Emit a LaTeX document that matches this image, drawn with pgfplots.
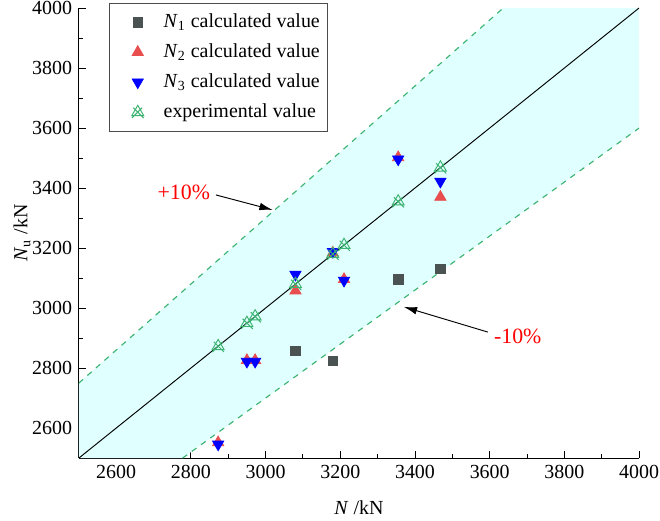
\documentclass[border=0pt]{standalone}
\usepackage{fontspec}
\setmainfont{Liberation Serif}
\usepackage{pgfplots}
\pgfplotsset{compat=1.18}
\usetikzlibrary{arrows.meta}
\definecolor{bandfill}{RGB}{224,255,255}
\definecolor{bandline}{RGB}{60,179,113}
\definecolor{ngray}{RGB}{74,82,82}
\definecolor{nred}{RGB}{232,78,78}
\definecolor{nblue}{RGB}{0,0,255}

% open triangle with a cross through it, like the Origin marker
\pgfdeclareplotmark{trix}{%
  \pgfpathmoveto{\pgfqpointpolar{90}{\pgfplotmarksize}}%
  \pgfpathlineto{\pgfqpointpolar{210}{\pgfplotmarksize}}%
  \pgfpathlineto{\pgfqpointpolar{330}{\pgfplotmarksize}}%
  \pgfpathclose
  \pgfpathmoveto{\pgfqpointpolar{45}{0.9\pgfplotmarksize}}%
  \pgfpathlineto{\pgfqpointpolar{225}{1.2\pgfplotmarksize}}%
  \pgfpathmoveto{\pgfqpointpolar{135}{0.9\pgfplotmarksize}}%
  \pgfpathlineto{\pgfqpointpolar{315}{1.2\pgfplotmarksize}}%
  \pgfusepathqstroke
}

\begin{document}
\begin{tikzpicture}
\begin{axis}[
  scale only axis,
  width=295pt, height=237pt,
  xmin=2500, xmax=4000, ymin=2500, ymax=4000,
  xtick={2600,2800,...,4000}, ytick={2600,2800,...,4000},
  minor tick num=1,
  axis lines*=left,
  tick align=inside,
  tick style={black, line width=0.5pt},
  major tick length=4pt, minor tick length=2pt,
  font=\fontsize{10.5}{12}\selectfont,
  /pgf/number format/assume math mode=true,
  /pgf/number format/1000 sep={},
  xticklabel style={inner xsep=0pt},
  yticklabel style={inner ysep=0pt},
  xlabel={\textit{N} /kN},
  ylabel={\textit{N}\textsubscript{u} /kN},
  xlabel style={inner ysep=0pt, yshift=-8.5pt},
  ylabel style={yshift=-6pt},
  legend style={at={(axis description cs:0.0535,1.011)}, anchor=north west,
    draw=black!70, font=\fontsize{10.5}{12}\selectfont, row sep=3pt,
    inner xsep=2pt, inner ysep=3.5pt},
  legend image code/.code={%
    \path (0cm,0cm) (0.85cm,0cm);
    \draw[mark repeat=1,#1] plot coordinates {(0.45cm,0cm)};},
  legend cell align=left,
  clip=true,
]
% +/-10% band
\addplot[fill=bandfill, draw=none, forget plot] coordinates
  {(2500,2750) (3636.36,4000) (4000,4000) (4000,3600) (2777.78,2500) (2500,2500)} -- cycle;
\addplot[bandline, dashed, line width=0.6pt, forget plot] coordinates {(2500,2750) (3636.36,4000)};
\addplot[bandline, dashed, line width=0.6pt, forget plot] coordinates {(2777.78,2500) (4000,3600)};
\addplot[black, line width=0.5pt, forget plot] coordinates {(2500,2500) (4000,4000)};

\addplot[only marks, mark=square*, mark size=2.5pt, color=ngray] coordinates {
  (3080,2858) (3180,2824) (3355,3096) (3468,3130)};
\addlegendentry{\textit{N}\textsubscript{1} calculated value}
\addplot[only marks, mark=triangle*, mark size=3.4pt, color=nred] coordinates {
  (2873,2552) (2950,2826) (2972,2826) (3080,3058) (3180,3184) (3210,3096) (3355,3502) (3468,3370)};
\addlegendentry{\textit{N}\textsubscript{2} calculated value}
\addplot[only marks, mark=triangle*, mark size=3.4pt, mark options={rotate=180}, color=nblue] coordinates {
  (2873,2546) (2950,2822) (2972,2822) (3080,3112) (3180,3188) (3210,3092) (3355,3496) (3468,3422)};
\addlegendentry{\textit{N}\textsubscript{3} calculated value}
\addplot[only marks, mark=trix, mark size=3.6pt, color=bandline, line width=0.5pt] coordinates {
  (2873,2873) (2950,2950) (2972,2972) (3080,3080) (3180,3180) (3210,3210) (3355,3355) (3468,3468)};
\addlegendentry{experimental value}

\draw[-{Latex[length=7pt,width=4pt]}, black, line width=0.5pt] (axis cs:2867,3377) -- (axis cs:3019,3327);
\node[red, font=\fontsize{11.5}{13}\selectfont] at (axis cs:2781,3387) {+10\%};
\draw[-{Latex[length=7pt,width=4pt]}, black, line width=0.5pt] (axis cs:3595,2920) -- (axis cs:3370,3004);
\node[red, font=\fontsize{11.5}{13}\selectfont] at (axis cs:3675,2907) {-10\%};
\end{axis}
% page margins matching the reference
\path (current axis.south west) +(-41.5pt,-32.6pt);
\path (current axis.north east) +(11pt,4.2pt);
\end{tikzpicture}
\end{document}
